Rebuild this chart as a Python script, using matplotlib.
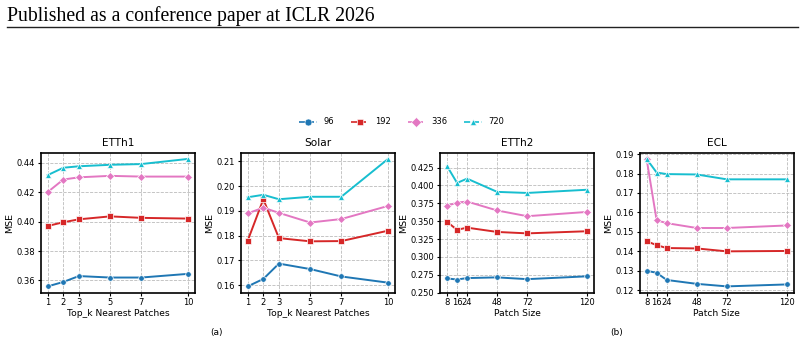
import matplotlib
matplotlib.use("Agg")
import matplotlib.pyplot as plt
from matplotlib.lines import Line2D

horizons = ["96", "192", "336", "720"]
colors = ["#1f77b4", "#d62728", "#e377c2", "#17becf"]
markers = ["o", "s", "D", "^"]

topk = [1, 2, 3, 5, 7, 10]
patch = [8, 16, 24, 48, 72, 120]

etth1 = {
    "96": [0.356, 0.359, 0.363, 0.362, 0.362, 0.3645],
    "192": [0.397, 0.3995, 0.4015, 0.4035, 0.4025, 0.402],
    "336": [0.420, 0.4285, 0.430, 0.431, 0.4305, 0.4305],
    "720": [0.4315, 0.4365, 0.4375, 0.4385, 0.439, 0.4425],
}
solar = {
    "96": [0.1595, 0.1625, 0.1687, 0.1665, 0.1635, 0.161],
    "192": [0.178, 0.1947, 0.179, 0.1777, 0.1778, 0.182],
    "336": [0.189, 0.1913, 0.1892, 0.1853, 0.1867, 0.192],
    "720": [0.1955, 0.1965, 0.1947, 0.1957, 0.1957, 0.211],
}
etth2 = {
    "96": [0.270, 0.2685, 0.2705, 0.2715, 0.269, 0.273],
    "192": [0.349, 0.338, 0.341, 0.335, 0.333, 0.336],
    "336": [0.3715, 0.376, 0.3775, 0.365, 0.357, 0.363],
    "720": [0.427, 0.4035, 0.4095, 0.391, 0.3895, 0.394],
}
ecl = {
    "96": [0.130, 0.129, 0.1253, 0.1233, 0.122, 0.123],
    "192": [0.1452, 0.1432, 0.1417, 0.1415, 0.140, 0.1402],
    "336": [0.1875, 0.156, 0.1545, 0.152, 0.152, 0.1533],
    "720": [0.1875, 0.1805, 0.1797, 0.1795, 0.177, 0.177],
}

panels = [
    ("ETTh1", topk, etth1, "Top_k Nearest Patches", 0.0506, None, "{:.2f}"),
    ("Solar", topk, solar, "Top_k Nearest Patches", 0.2994, None, "{:.2f}"),
    ("ETTh2", patch, etth2, "Patch Size", 0.5473, (0.25, 0.446), "{:.3f}"),
    ("ECL", patch, ecl, "Patch Size", 0.7955, None, "{:.2f}"),
]

plt.rcParams["font.family"] = ["DejaVu Sans"]
fig = plt.figure(figsize=(8.04, 3.42), dpi=100)

for title, xs, data, xlabel, left, ylim, fmt in panels:
    ax = fig.add_axes([left, 0.144, 0.192, 0.410])
    for h, c, m in zip(horizons, colors, markers):
        ax.plot(xs, data[h], color=c, marker=m, markersize=4 if m != "^" else 4.5,
                markeredgecolor="white", markeredgewidth=0.5, linewidth=1.4, label=h)
    ax.set_xticks(xs)
    ax.set_xticklabels([str(v) for v in xs])
    if ylim:
        ax.set_ylim(*ylim)
    ax.yaxis.set_major_formatter(matplotlib.ticker.FuncFormatter(lambda v, p, f=fmt: f.format(v)))
    ax.grid(True, linestyle="--", color="#bbbbbb", linewidth=0.6)
    ax.set_axisbelow(True)
    for s in ax.spines.values():
        s.set_linewidth(1.2)
    ax.tick_params(labelsize=6, length=2.5, width=0.8, pad=1.5)
    ax.set_title(title, fontsize=7.6, pad=5)
    ax.set_xlabel(xlabel, fontsize=6.6, labelpad=1)
    ax.set_ylabel("MSE", fontsize=6.8, labelpad=2)

handles = [Line2D([], [], color=c, marker=m, linestyle="--", markersize=5,
                  linewidth=1.2, markeredgecolor="white", markeredgewidth=0.4)
           for c, m in zip(colors, markers)]
fig.legend(handles, horizons, loc="center", bbox_to_anchor=(0.5, 1 - 122 / 342),
           ncol=4, frameon=False, fontsize=6, handlelength=2.1, columnspacing=2.0,
           handletextpad=0.8)

fig.text(217 / 804, 1 - 332 / 342, "(a)", fontsize=6.5, ha="center", va="center")
fig.text(617 / 804, 1 - 332 / 342, "(b)", fontsize=6.5, ha="center", va="center")

fig.text(7 / 804, 1 - 20.7 / 342, "Published as a conference paper at ICLR 2026",
         fontsize=14.2, family="Liberation Serif", ha="left", va="baseline")
fig.add_artist(Line2D([7 / 804, 798 / 804], [1 - 26.8 / 342, 1 - 26.8 / 342],
                      color="#222222", linewidth=1.0, transform=fig.transFigure))

fig.savefig("out.png", dpi=100)
